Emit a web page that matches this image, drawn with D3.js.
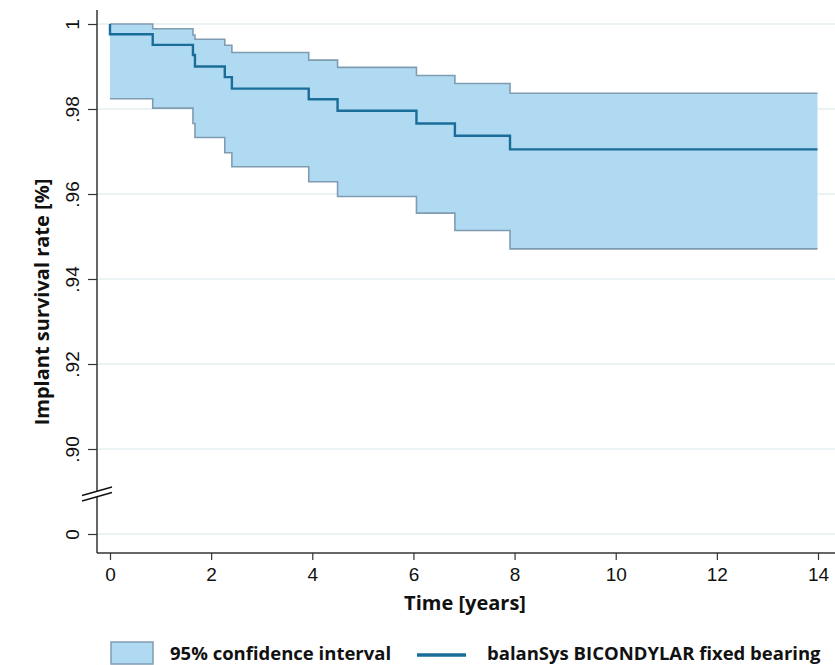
<!DOCTYPE html>
<html>
<head>
<meta charset="utf-8">
<script src="https://cdn.jsdelivr.net/npm/d3@7"></script>
<style>
  body { margin: 0; background: #fff; }
  svg { display: block; }
</style>
</head>
<body>
<div id="chart"></div>
<script>
// Kaplan-Meier estimate
const times    = [0,      0,      0.845,  1.64,   1.68,   2.27,   2.41,   3.93,   4.50,   6.06,   6.82,   7.91,   13.99];
const survival = [1,      0.9976, 0.9951, 0.9927, 0.9900, 0.9875, 0.9848, 0.9823, 0.9796, 0.9766, 0.9737, 0.9705, 0.9705];
const upperCI  = [1,      1,      0.9989, 0.9974, 0.9964, 0.9950, 0.9933, 0.9915, 0.9898, 0.9879, 0.9860, 0.9837, 0.9837];
const lowerCI  = [0.9824, 0.9824, 0.9802, 0.9766, 0.9733, 0.9697, 0.9664, 0.9629, 0.9594, 0.9555, 0.9514, 0.9471, 0.9471];

const xTicks = [0, 2, 4, 6, 8, 10, 12, 14];
const yTicks = [0, 0.90, 0.92, 0.94, 0.96, 0.98, 1];
const yTickLabels = ["0", ".90", ".92", ".94", ".96", ".98", "1"];

const legendLabels = ["95% confidence interval", "balanSys BICONDYLAR fixed bearing"];

const W = 835, H = 665;
const plotLeft = 97, plotRight = 835, plotTop = 10, plotBottom = 553;

const svg = d3.select("#chart").append("svg")
    .attr("width", W)
    .attr("height", H);

const x = d3.scaleLinear().domain([0, 14]).range([110, 818]);
// broken axis: 0 sits below the break, .90 to 1 above it
const y = d3.scaleLinear().domain([0, 0.9, 1]).range([534, 449, 24]);

const data = times.map((t, i) => ({ t: t, s: survival[i], hi: upperCI[i], lo: lowerCI[i] }));

// grid
svg.append("g")
    .selectAll("line")
    .data(yTicks)
    .join("line")
    .attr("x1", plotLeft + 1)
    .attr("x2", plotRight)
    .attr("y1", d => y(d))
    .attr("y2", d => y(d))
    .attr("stroke", "#e3eef1")
    .attr("stroke-width", 1.5);

// confidence band
const area = d3.area()
    .curve(d3.curveStepAfter)
    .x(d => x(d.t))
    .y0(d => y(d.lo))
    .y1(d => y(d.hi));

svg.append("path")
    .datum(data)
    .attr("d", area)
    .attr("fill", "#b0daf2");

const stepLine = key => d3.line()
    .curve(d3.curveStepAfter)
    .x(d => x(d.t))
    .y(d => y(d[key]));

["hi", "lo"].forEach(k => {
    svg.append("path")
        .datum(data)
        .attr("d", stepLine(k))
        .attr("fill", "none")
        .attr("stroke", "#7f9cb1")
        .attr("stroke-width", 1.6);
});

// survival curve
svg.append("path")
    .datum(data)
    .attr("d", stepLine("s"))
    .attr("fill", "none")
    .attr("stroke", "#1a6d99")
    .attr("stroke-width", 2.4);

// axes
const tickFont = "Liberation Sans, Arial, sans-serif";

const xAxis = svg.append("g")
    .attr("transform", `translate(0,${plotBottom})`)
    .call(d3.axisBottom(x).tickValues(xTicks).tickFormat(d3.format("d")).tickSize(7).tickPadding(7.5).tickSizeOuter(0));
xAxis.select(".domain").remove();
xAxis.append("line")
    .attr("x1", plotLeft).attr("x2", plotRight)
    .attr("stroke", "#333").attr("stroke-width", 1.5);
xAxis.selectAll(".tick line").attr("stroke", "#333").attr("stroke-width", 1.2);
xAxis.selectAll(".tick text")
    .attr("font-family", tickFont)
    .attr("font-size", 19)
    .attr("fill", "#111");

const yAxis = svg.append("g")
    .attr("transform", `translate(${plotLeft},0)`)
    .call(d3.axisLeft(y).tickValues(yTicks).tickFormat((d, i) => yTickLabels[i]).tickSize(9).tickSizeOuter(0));
yAxis.select(".domain").remove();
yAxis.append("line")
    .attr("y1", plotTop).attr("y2", plotBottom)
    .attr("stroke", "#333").attr("stroke-width", 1.5);
yAxis.selectAll(".tick line").attr("stroke", "#333").attr("stroke-width", 1.2);
yAxis.selectAll(".tick text")
    .attr("x", null).attr("dy", null)
    .attr("transform", "translate(-18,0) rotate(-90)")
    .attr("text-anchor", "middle")
    .attr("font-family", tickFont)
    .attr("font-size", 19)
    .attr("fill", "#111");

// axis break marks
const breakY = (y(0) + y(0.9)) / 2;
const brk = svg.append("g").attr("transform", `translate(${plotLeft},${breakY})`);
brk.append("polygon")
    .attr("points", "-15,4 15,-4.5 15,1 -15,9.5")
    .attr("fill", "#fff");
[[-15, 4, 15, -4.5], [-15, 9.5, 15, 1]].forEach(p => {
    brk.append("line")
        .attr("x1", p[0]).attr("y1", p[1]).attr("x2", p[2]).attr("y2", p[3])
        .attr("stroke", "#111").attr("stroke-width", 1.3);
});

// axis titles
svg.append("text")
    .attr("x", 465)
    .attr("y", 610)
    .attr("text-anchor", "middle")
    .attr("font-family", "Open Sans, sans-serif")
    .attr("font-weight", "bold")
    .attr("font-size", 20)
    .attr("fill", "#111")
    .text("Time [years]");

svg.append("text")
    .attr("transform", "translate(49,302) rotate(-90)")
    .attr("text-anchor", "middle")
    .attr("font-family", "Open Sans, sans-serif")
    .attr("font-weight", "bold")
    .attr("font-size", 20)
    .attr("fill", "#111")
    .text("Implant survival rate [%]");

// legend
const leg = svg.append("g").attr("transform", "translate(0,653)");
leg.append("rect")
    .attr("x", 111).attr("y", -11).attr("width", 42).attr("height", 22)
    .attr("fill", "#b0daf2").attr("stroke", "#7f9cb1").attr("stroke-width", 1.5);
leg.append("text")
    .attr("x", 170).attr("y", 7)
    .attr("font-family", "Open Sans, sans-serif").attr("font-weight", "bold").attr("font-size", 18.5)
    .attr("fill", "#111")
    .text(legendLabels[0]);
leg.append("line")
    .attr("x1", 417).attr("x2", 466).attr("y1", 2).attr("y2", 2)
    .attr("stroke", "#1a6d99").attr("stroke-width", 3.3);
leg.append("text")
    .attr("x", 487).attr("y", 7)
    .attr("font-family", "Open Sans, sans-serif").attr("font-weight", "bold").attr("font-size", 18.5)
    .attr("fill", "#111")
    .text(legendLabels[1]);
</script>
</body>
</html>
